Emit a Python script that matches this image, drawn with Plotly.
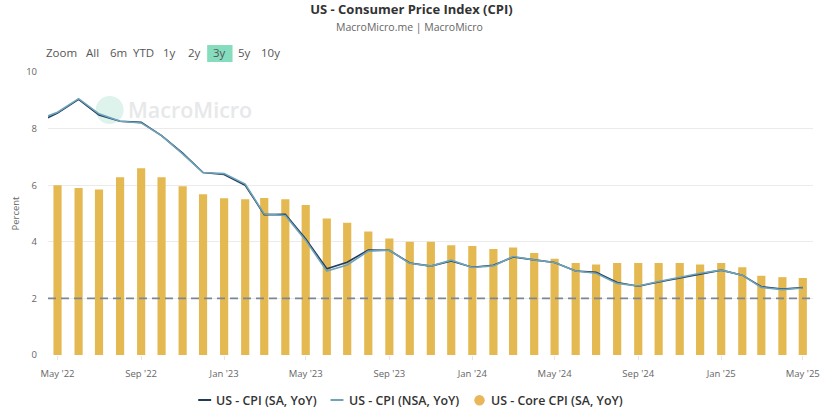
import plotly.graph_objects as go

# Monthly dates, Apr 2022 is only there so the lines run off the left edge
dates = [
    '2022-04-01', '2022-05-01', '2022-06-01', '2022-07-01', '2022-08-01', '2022-09-01', '2022-10-01',
    '2022-11-01', '2022-12-01', '2023-01-01', '2023-02-01', '2023-03-01', '2023-04-01', '2023-05-01',
    '2023-06-01', '2023-07-01', '2023-08-01', '2023-09-01', '2023-10-01', '2023-11-01', '2023-12-01',
    '2024-01-01', '2024-02-01', '2024-03-01', '2024-04-01', '2024-05-01', '2024-06-01', '2024-07-01',
    '2024-08-01', '2024-09-01', '2024-10-01', '2024-11-01', '2024-12-01', '2025-01-01', '2025-02-01',
    '2025-03-01', '2025-04-01', '2025-05-01',
]
cpi_sa = [8.2, 8.55, 9.03, 8.48, 8.26, 8.22, 7.75, 7.13, 6.45, 6.38, 6.0, 4.96, 4.97, 4.1, 3.05, 3.28, 3.71,
          3.7, 3.25, 3.14, 3.32, 3.1, 3.17, 3.46, 3.36, 3.27, 2.97, 2.92, 2.56, 2.43, 2.58, 2.72, 2.87, 3.0,
          2.82, 2.41, 2.33, 2.38]
cpi_nsa = [8.3, 8.58, 9.06, 8.52, 8.26, 8.2, 7.75, 7.11, 6.45, 6.41, 6.04, 4.98, 4.93, 4.05, 2.97, 3.18, 3.67,
           3.7, 3.24, 3.14, 3.35, 3.09, 3.15, 3.48, 3.36, 3.27, 2.97, 2.89, 2.53, 2.44, 2.6, 2.75, 2.89, 3.0,
           2.82, 2.39, 2.31, 2.37]
core_cpi = [6.0, 5.9, 5.85, 6.28, 6.6, 6.28, 5.96, 5.68, 5.54, 5.5, 5.55, 5.5, 5.3, 4.82, 4.67, 4.36, 4.12,
            4.0, 4.0, 3.88, 3.85, 3.75, 3.8, 3.6, 3.4, 3.25, 3.2, 3.25, 3.25, 3.25, 3.25, 3.2, 3.25, 3.1,
            2.8, 2.75, 2.72]
x_ticks = ['2022-05-01', '2022-09-01', '2023-01-01', '2023-05-01', '2023-09-01', '2024-01-01', '2024-05-01',
           '2024-09-01', '2025-01-01', '2025-05-01']
x_labels = ["May '22", "Sep '22", "Jan '23", "May '23", "Sep '23", "Jan '24", "May '24", "Sep '24", "Jan '25",
            "May '25"]
range_labels = ['Zoom', 'All', '6m', 'YTD', '1y', '2y', '3y', '5y', '10y']
range_label_x = [62, 93, 119, 144, 170, 195, 220.5, 246, 272]

FONT = 'Open Sans'
W, H = 832, 416
LEFT, RIGHT, TOP, BOTTOM = 48, 817, 72, 355
COLOR_SA, COLOR_NSA, COLOR_CORE = '#1F3A5F', '#6FA3B8', '#E5B951'


def px_x(px):
    return (px - LEFT) / (RIGHT - LEFT)


def px_y(py):
    return (BOTTOM - py) / (BOTTOM - TOP)


fig = go.Figure()

fig.add_trace(go.Bar(
    x=dates[1:], y=core_cpi, name='US - Core CPI (SA, YoY)', marker=dict(color=COLOR_CORE, line_width=0)
))
fig.add_trace(go.Scatter(
    x=dates, y=cpi_sa, name='US - CPI (SA, YoY)', mode='lines', line=dict(color=COLOR_SA, width=1.6)
))
fig.add_trace(go.Scatter(
    x=dates, y=cpi_nsa, name='US - CPI (NSA, YoY)', mode='lines', line=dict(color=COLOR_NSA, width=1.6)
))

# 2% target line
fig.add_shape(type='line', xref='paper', x0=0, x1=1, yref='y', y0=2, y1=2, layer='above',
              line=dict(color='#7D8794', width=1.8, dash='8px,5px'))

# Range selector row is static in the picture
fig.add_shape(type='rect', xref='paper', yref='paper', layer='below',
              x0=px_x(208), x1=px_x(233.5), y0=px_y(62), y1=px_y(45), fillcolor='#85DDBE', line_width=0)
for label, px in zip(range_labels, range_label_x):
    fig.add_annotation(text=label, xref='paper', yref='paper', x=px_x(px), y=px_y(53), showarrow=False,
                       xanchor='center', yanchor='middle', font=dict(family=FONT, size=11.5, color='#555555'))

# Watermark
fig.add_annotation(text='MacroMicro', xref='paper', yref='paper', x=px_x(126.5), y=px_y(110), showarrow=False,
                   xanchor='left', yanchor='middle', font=dict(family=FONT, size=21.5, color='#E6E8E9', weight=600))
fig.add_shape(type='circle', xref='paper', yref='paper', layer='below',
              x0=px_x(96), x1=px_x(124), y0=px_y(124), y1=px_y(96), fillcolor='#DDF3EC', line_width=0)

# Subtitle
fig.add_annotation(text='MacroMicro.me | MacroMicro', xref='paper', yref='paper', x=px_x(411), y=px_y(27),
                   showarrow=False, xanchor='center', yanchor='middle',
                   font=dict(family=FONT, size=10.5, color='#666666'))

# Legend is laid out by hand: short line swatches and a round one for the bars
legend_y = px_y(400)
for name, color, x0, x_text in [('US - CPI (SA, YoY)', COLOR_SA, 199, 216),
                                ('US - CPI (NSA, YoY)', COLOR_NSA, 332, 350)]:
    fig.add_shape(type='line', xref='paper', yref='paper', x0=px_x(x0), x1=px_x(x0 + 13), y0=legend_y, y1=legend_y,
                  line=dict(color=color, width=2))
    fig.add_annotation(text=name, xref='paper', yref='paper', x=px_x(x_text), y=legend_y, showarrow=False,
                       xanchor='left', yanchor='middle', xshift=-1,
                       font=dict(family=FONT, size=12.4, color='#333333', weight=600))
fig.add_shape(type='circle', xref='paper', yref='paper', x0=px_x(476.5), x1=px_x(487), y0=px_y(405.5), y1=px_y(395),
              fillcolor='#E9B759', line_width=0)
fig.add_annotation(text='US - Core CPI (SA, YoY)', xref='paper', yref='paper', x=px_x(492), y=legend_y,
                   showarrow=False, xanchor='left', yanchor='middle', xshift=-1,
                   font=dict(family=FONT, size=12.4, color='#333333', weight=600))

fig.update_layout(
    width=W, height=H,
    title=dict(text='<b>US - Consumer Price Index (CPI)</b>', x=0.4945, xanchor='center', y=0.978, yanchor='middle',
               font=dict(family=FONT, size=13, color='#333333')),
    xaxis=dict(
        type='date', range=['2022-04-17', '2025-05-16'], tickvals=x_ticks, ticktext=x_labels,
        showgrid=False, zeroline=False, showline=False, ticks='outside', ticklen=4, tickcolor='#E6E6E6',
        ticklabelstandoff=6, tickfont=dict(family=FONT, size=9.5, color='#666666')
    ),
    yaxis=dict(
        range=[0, 10], tickvals=[0, 2, 4, 6, 8, 10], gridcolor='#EBEBEB', gridwidth=1, zeroline=False,
        ticklabelstandoff=10,
        title=dict(text='Percent', standoff=4, font=dict(family=FONT, size=9.5, color='#666666')),
        tickfont=dict(family=FONT, size=9.5, color='#666666')
    ),
    showlegend=False,
    bargap=0.57,
    plot_bgcolor='white',
    paper_bgcolor='white',
    margin=dict(l=LEFT, r=W - RIGHT, t=TOP, b=H - BOTTOM),
    hovermode='x unified'
)

# Drop the page's default body margin so the figure fills the window
fig.write_html('out.html', config=dict(displayModeBar=False),
               post_script="document.body.style.margin='0';document.body.style.overflow='hidden';")
